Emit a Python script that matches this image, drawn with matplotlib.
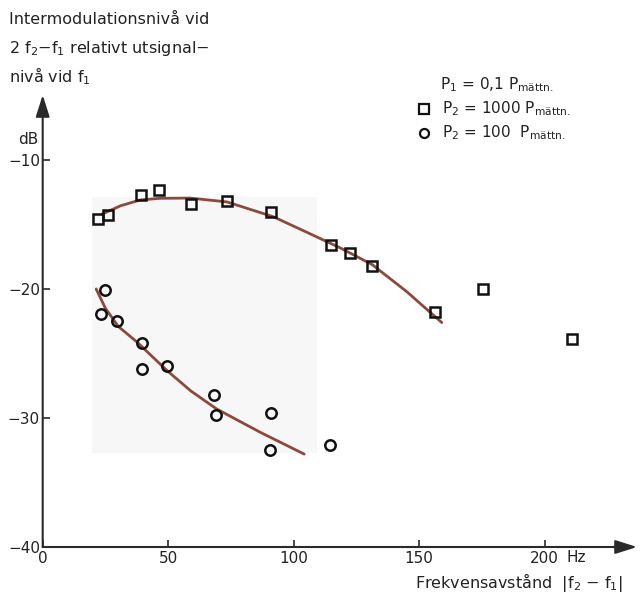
import matplotlib
matplotlib.use("Agg")
import matplotlib.pyplot as plt
from matplotlib.patches import Rectangle

plt.rcParams['font.family'] = ['DejaVu Sans']
plt.rcParams['mathtext.default'] = 'regular'

# ---- data ----
sq_x = [22.2, 26.1, 39.0, 46.4, 59.1, 73.6, 90.8, 114.9, 122.4, 131.1, 156.3, 175.5, 210.7]
sq_y = [-14.6, -14.3, -12.7, -12.3, -13.4, -13.2, -14.0, -16.6, -17.2, -18.2, -21.8, -20.0, -23.9]

ci_x = [24.8, 23.1, 29.5, 39.4, 39.4, 49.4, 68.4, 69.0, 90.8, 90.6, 114.5]
ci_y = [-20.1, -21.9, -22.5, -24.2, -26.2, -26.0, -28.2, -29.8, -29.6, -32.5, -32.1]

fit1_x = [23.6, 31.0, 38.8, 46.7, 58.7, 73.4, 91.9, 105.2, 118.4, 131.2, 145.0, 159.0]
fit1_y = [-14.2, -13.55, -13.1, -12.97, -12.95, -13.25, -14.4, -15.6, -16.8, -18.1, -20.2, -22.6]

fit2_x = [21.3, 25.0, 30.1, 37.5, 49.4, 59.0, 69.3, 86.6, 104.2]
fit2_y = [-20.0, -21.5, -22.9, -24.1, -26.3, -27.9, -29.3, -31.1, -32.8]

xticks = [0, 50, 100, 150, 200]
xticklabels = ['0', '50', '100', '150', '200']
yticks = [-40, -30, -20, -10]
yticklabels = ['\u221240', '\u221230', '\u221220', '\u221210']

# ---- figure ----
W, H = 643, 606
fig = plt.figure(figsize=(W / 100, H / 100), dpi=100)
x0_px, y0_px = 42.7, 547.0
xtop_px, ytop_px = 637.0, 95.0
px_per_hz = 2.51
px_per_db = 12.9
xmax = (xtop_px - x0_px) / px_per_hz
ymax = -40 + (y0_px - ytop_px) / px_per_db

ax = fig.add_axes([x0_px / W, (H - y0_px) / H, (xtop_px - x0_px) / W, (y0_px - ytop_px) / H])
ax.set_xlim(0, xmax)
ax.set_ylim(-40, ymax)
for s in ax.spines.values():
    s.set_visible(False)

# faint scan shading
ax.add_patch(Rectangle((19.7, -32.7), 89.6, 19.8, facecolor='#f7f7f7', edgecolor='none', zorder=0))

axcol = '#2a2a2a'
ax.annotate('', xy=(1, 0), xycoords='axes fraction', xytext=(0, 0),
            arrowprops=dict(arrowstyle='-|>,head_length=1.1,head_width=0.35', lw=1.5,
                            color=axcol, shrinkA=0, shrinkB=0, mutation_scale=12))
ax.annotate('', xy=(0, 1), xycoords='axes fraction', xytext=(0, 0),
            arrowprops=dict(arrowstyle='-|>,head_length=1.1,head_width=0.35', lw=1.5,
                            color=axcol, shrinkA=0, shrinkB=0, mutation_scale=12))

ax.set_xticks(xticks)
ax.set_xticklabels(xticklabels)
ax.set_yticks(yticks)
ax.set_yticklabels(yticklabels)
ax.tick_params(axis='both', direction='in', length=5, width=1.2, color=axcol,
               labelsize=11, labelcolor='#222222')
ax.tick_params(axis='y', pad=2)
ax.tick_params(axis='x', pad=3)

curve_col = '#8c4a3c'
ax.plot(fit1_x, fit1_y, color=curve_col, lw=2.0, zorder=2, solid_capstyle='round')
ax.plot(fit2_x, fit2_y, color=curve_col, lw=2.0, zorder=2, solid_capstyle='round')

ax.plot(sq_x, sq_y, linestyle='none', marker='s', markersize=7.5, markerfacecolor='none',
        markeredgecolor='#111111', markeredgewidth=1.8, zorder=3)
ax.plot(ci_x, ci_y, linestyle='none', marker='o', markersize=7.5, markerfacecolor='none',
        markeredgecolor='#111111', markeredgewidth=1.8, zorder=3)

# texts
tc = '#222222'
fig.text(9 / W, 1 - 20 / H, 'Intermodulationsnivå vid', fontsize=11.5, color=tc, va='center', ha='left')
fig.text(9 / W, 1 - 48 / H, '2 f$_2$\u2212f$_1$ relativt utsignal\u2212', fontsize=11.5, color=tc, va='center', ha='left')
fig.text(9 / W, 1 - 76 / H, 'nivå vid f$_1$', fontsize=11.5, color=tc, va='center', ha='left')

fig.text(38 / W, 1 - 140 / H, 'dB', fontsize=11, color=tc, va='center', ha='right')
fig.text(566 / W, 1 - 558 / H, 'Hz', fontsize=11, color=tc, va='center', ha='left')

fig.text(440 / W, 1 - 85 / H, 'P$_1$ = 0,1 P$_{mättn.}$', fontsize=11, color=tc, va='center', ha='left')
fig.text(442 / W, 1 - 109 / H, 'P$_2$ = 1000 P$_{mättn.}$', fontsize=11, color=tc, va='center', ha='left')
fig.text(442 / W, 1 - 133 / H, 'P$_2$ = 100  P$_{mättn.}$', fontsize=11, color=tc, va='center', ha='left')
lax = fig.add_axes([0, 0, 1, 1], facecolor='none')
lax.set_xlim(0, W)
lax.set_ylim(H, 0)
lax.axis('off')
lax.plot([424], [109], linestyle='none', marker='s', markersize=6.5, markerfacecolor='none',
         markeredgecolor='#111111', markeredgewidth=1.6)
lax.plot([424], [133], linestyle='none', marker='o', markersize=6.5, markerfacecolor='none',
         markeredgecolor='#111111', markeredgewidth=1.6)

fig.text(415 / W, 1 - 583 / H, 'Frekvensavstånd  |f$_2$ \u2212 f$_1$|', fontsize=11.5, color=tc,
         va='center', ha='left')

fig.savefig('out.png', dpi=100, facecolor='white')
